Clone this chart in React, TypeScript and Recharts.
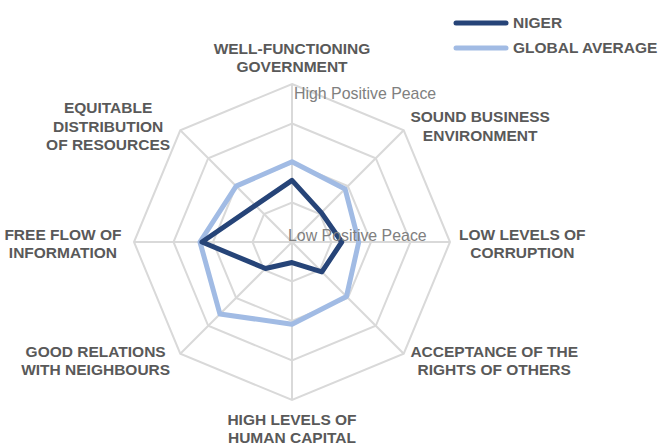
import React from "react";
import {
  RadarChart,
  Radar,
  PolarGrid,
  PolarAngleAxis,
  PolarRadiusAxis,
  Legend,
} from "recharts";

const categories = [
  "WELL-FUNCTIONING|GOVERNMENT",
  "SOUND BUSINESS|ENVIRONMENT",
  "LOW LEVELS OF|CORRUPTION",
  "ACCEPTANCE OF THE|RIGHTS OF OTHERS",
  "HIGH LEVELS OF|HUMAN CAPITAL",
  "GOOD RELATIONS|WITH NEIGHBOURS",
  "FREE FLOW OF|INFORMATION",
  "EQUITABLE|DISTRIBUTION|OF RESOURCES",
];
const nigerValues = [1.56, 1.05, 1.26, 1.07, 0.52, 0.95, 2.28, 1.31];
const globalValues = [2.03, 1.9, 1.69, 1.95, 2.08, 2.58, 2.33, 2.0];
const seriesNames = ["NIGER", "GLOBAL AVERAGE"];
const radiusTicks = [0, 1, 2, 3, 4];
const radiusTickLabels: Record<number, string> = {
  0: "Low Positive Peace",
  4: "High Positive Peace",
};

const data = categories.map((c, i) => ({
  category: c,
  niger: nigerValues[i],
  global: globalValues[i],
}));

const CX = 292;
const CY = 242;
const OUTER = 158;
const FONT = "'Liberation Sans', Arial, sans-serif";
const LABEL_SIZE = 15.5;
const DARK = "#264478";
const LIGHT = "#A1BBE4";
const TEXT = "#595959";

let ctx: CanvasRenderingContext2D | null = null;
function measure(text: string): number {
  if (typeof document !== "undefined") {
    if (!ctx) ctx = document.createElement("canvas").getContext("2d");
    if (ctx) {
      ctx.font = `700 ${LABEL_SIZE}px ${FONT}`;
      return ctx.measureText(text).width;
    }
  }
  return text.length * LABEL_SIZE * 0.68;
}

const AngleTick = (props: any) => {
  const { x, y, payload } = props;
  const lines: string[] = String(payload.value).split("|");
  const dx = x - CX;
  const dy = y - CY;
  const lh = 18.3;
  let tx = x;
  let firstY = y;
  if (Math.abs(dx) < 2) {
    tx = x;
    if (dy < 0) firstY = y - 9 - lh * (lines.length - 1);
    else firstY = y + 11.5;
  } else {
    const maxW = Math.max(...lines.map(measure));
    if (dx > 0) tx = x + 1 + maxW / 2;
    else tx = x - 4.5 - maxW / 2;
    firstY = y + 1.5 - (lh * (lines.length - 1)) / 2;
  }
  return (
    <g>
      {lines.map((l, i) => (
        <text
          key={i}
          x={tx}
          y={firstY + i * lh}
          dy="0.35em"
          textAnchor="middle"
          fill={TEXT}
          fontFamily={FONT}
          fontWeight={700}
          fontSize={LABEL_SIZE}
        >
          {l}
        </text>
      ))}
    </g>
  );
};

const RadiusTick = (props: any) => {
  const { x, y, payload } = props;
  const label = radiusTickLabels[payload.value];
  if (!label) return null;
  const isHigh = payload.value === 4;
  return (
    <text
      x={isHigh ? x + 2 : x - 4}
      y={isHigh ? y + 9 : y - 7}
      dy="0.35em"
      textAnchor="start"
      fill="#808080"
      fontFamily={FONT}
      fontSize={15.9}
    >
      {label}
    </text>
  );
};

const LegendContent = () => {
  const items = [
    { name: seriesNames[0], color: DARK },
    { name: seriesNames[1], color: LIGHT },
  ];
  return (
    <svg width={215} height={50} style={{ display: "block" }}>
      {items.map((it, i) => (
        <g key={it.name}>
          <line
            x1={6}
            x2={56}
            y1={10 + i * 25}
            y2={10 + i * 25}
            stroke={it.color}
            strokeWidth={5}
            strokeLinecap="round"
          />
          <text
            x={63}
            y={10 + i * 25}
            dy="0.35em"
            fill={TEXT}
            fontFamily={FONT}
            fontWeight={700}
            fontSize={15.5}
          >
            {it.name}
          </text>
        </g>
      ))}
    </svg>
  );
};

export default function App() {
  return (
    <div style={{ position: "absolute", left: 0, top: 0, width: 663, height: 444, background: "#fff" }}>
      <RadarChart
        width={663}
        height={444}
        cx={CX}
        cy={CY}
        outerRadius={OUTER}
        data={data}
        margin={{ top: 0, right: 0, bottom: 0, left: 0 }}
      >
        <PolarGrid gridType="polygon" stroke="#D9D9D9" strokeWidth={2} />
        <PolarAngleAxis
          dataKey="category"
          tick={AngleTick}
          tickLine={false}
          axisLine={false}
        />
        <PolarRadiusAxis
          angle={90}
          domain={[0, 4]}
          ticks={radiusTicks as any}
          tickCount={5}
          axisLine={false}
          tickLine={false}
          tick={RadiusTick}
        />
        <Radar
          name={seriesNames[1]}
          dataKey="global"
          stroke={LIGHT}
          strokeWidth={5}
          fill="none"
          fillOpacity={0}
          strokeLinejoin="round"
          isAnimationActive={false}
        />
        <Radar
          name={seriesNames[0]}
          dataKey="niger"
          stroke={DARK}
          strokeWidth={5}
          fill="none"
          fillOpacity={0}
          strokeLinejoin="round"
          isAnimationActive={false}
        />
        <Legend
          content={LegendContent}
          wrapperStyle={{ position: "absolute", top: 13, left: 450, width: 215 }}
        />
      </RadarChart>
    </div>
  );
}
